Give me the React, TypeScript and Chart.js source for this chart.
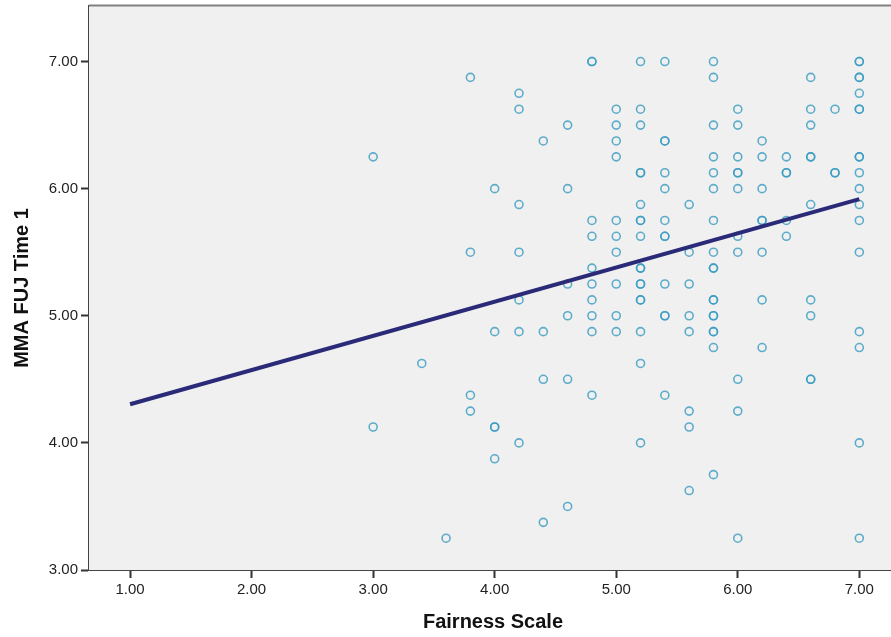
import React, { useEffect, useRef } from "react";
import { Chart, registerables } from "chart.js";

Chart.register(...registerables);

// Fairness Scale (x) and MMA FUJ Time 1 (y), one entry per observation
const fairnessScale: number[] = [
  3.0, 3.0,
  3.4,
  3.6,
  3.8, 3.8, 3.8, 3.8,
  4.0, 4.0, 4.0, 4.0, 4.0,
  4.2, 4.2, 4.2, 4.2, 4.2, 4.2, 4.2,
  4.4, 4.4, 4.4, 4.4,
  4.6, 4.6, 4.6, 4.6, 4.6, 4.6,
  4.8, 4.8, 4.8, 4.8, 4.8, 4.8, 4.8, 4.8, 4.8, 4.8,
  5.0, 5.0, 5.0, 5.0, 5.0, 5.0, 5.0, 5.0, 5.0, 5.0,
  5.2, 5.2, 5.2, 5.2, 5.2, 5.2, 5.2, 5.2, 5.2, 5.2, 5.2, 5.2, 5.2, 5.2, 5.2, 5.2, 5.2, 5.2,
  5.4, 5.4, 5.4, 5.4, 5.4, 5.4, 5.4, 5.4, 5.4, 5.4, 5.4, 5.4,
  5.6, 5.6, 5.6, 5.6, 5.6, 5.6, 5.6, 5.6,
  5.8, 5.8, 5.8, 5.8, 5.8, 5.8, 5.8, 5.8, 5.8, 5.8, 5.8, 5.8, 5.8, 5.8, 5.8, 5.8, 5.8, 5.8,
  6.0, 6.0, 6.0, 6.0, 6.0, 6.0, 6.0, 6.0, 6.0, 6.0, 6.0,
  6.2, 6.2, 6.2, 6.2, 6.2, 6.2, 6.2, 6.2,
  6.4, 6.4, 6.4, 6.4, 6.4,
  6.6, 6.6, 6.6, 6.6, 6.6, 6.6, 6.6, 6.6, 6.6, 6.6,
  6.8, 6.8, 6.8,
  7.0, 7.0, 7.0, 7.0, 7.0, 7.0, 7.0, 7.0, 7.0, 7.0, 7.0, 7.0, 7.0, 7.0, 7.0, 7.0, 7.0, 7.0,
];

const fujTime1: number[] = [
  6.25, 4.125,
  4.625,
  3.25,
  6.875, 5.5, 4.375, 4.25,
  6.0, 4.875, 4.125, 4.125, 3.875,
  6.75, 6.625, 5.875, 5.5, 5.125, 4.875, 4.0,
  6.375, 4.875, 4.5, 3.375,
  6.5, 6.0, 5.25, 5.0, 4.5, 3.5,
  7.0, 7.0, 5.75, 5.625, 5.375, 5.25, 5.125, 5.0, 4.875, 4.375,
  6.625, 6.5, 6.375, 6.25, 5.75, 5.625, 5.5, 5.25, 5.0, 4.875,
  7.0, 6.625, 6.5, 6.125, 6.125, 5.875, 5.75, 5.75, 5.625, 5.375, 5.375, 5.25, 5.25, 5.125, 5.125, 4.875, 4.625, 4.0,
  7.0, 6.375, 6.375, 6.125, 6.0, 5.75, 5.625, 5.625, 5.25, 5.0, 5.0, 4.375,
  5.875, 5.5, 5.25, 5.0, 4.875, 4.25, 4.125, 3.625,
  7.0, 6.875, 6.5, 6.25, 6.125, 6.0, 5.75, 5.5, 5.375, 5.375, 5.125, 5.125, 5.0, 5.0, 4.875, 4.875, 4.75, 3.75,
  6.625, 6.5, 6.25, 6.125, 6.125, 6.0, 5.625, 5.5, 4.5, 4.25, 3.25,
  6.375, 6.25, 6.0, 5.75, 5.75, 5.5, 5.125, 4.75,
  6.25, 6.125, 6.125, 5.75, 5.625,
  6.875, 6.625, 6.5, 6.25, 6.25, 5.875, 5.125, 5.0, 4.5, 4.5,
  6.625, 6.125, 6.125,
  7.0, 7.0, 6.875, 6.875, 6.75, 6.625, 6.625, 6.25, 6.25, 6.125, 6.0, 5.875, 5.75, 5.5, 4.875, 4.75, 4.0, 3.25,
];

// Fit line endpoints
const fitX: number[] = [1.0, 7.0];
const fitY: number[] = [4.304, 5.917];

const xTickValues: number[] = [1, 2, 3, 4, 5, 6, 7];
const yTickValues: number[] = [3, 4, 5, 6, 7];

const xTitle = "Fairness Scale";
const yTitle = "MMA FUJ Time 1";

const FONT = "'Liberation Sans', Arial, sans-serif";

export default function App() {
  const ref = useRef<HTMLCanvasElement | null>(null);

  useEffect(() => {
    document.body.style.margin = "0";
    const canvas = ref.current;
    if (!canvas) return;

    const n = Math.min(fairnessScale.length, fujTime1.length);
    const pts = [];
    for (let i = 0; i < n; i++) pts.push({ x: fairnessScale[i], y: fujTime1[i] });
    const line = fitX.map((x, i) => ({ x, y: fitY[i] }));

    const bgPlugin = {
      id: "bgPlugin",
      beforeDatasetsDraw(chart: any) {
        const { ctx, chartArea } = chart;
        ctx.save();
        ctx.fillStyle = "#f0f0f0";
        ctx.fillRect(chartArea.left, chartArea.top, chartArea.right - chartArea.left, chartArea.bottom - chartArea.top);
        ctx.restore();
      },
      afterDraw(chart: any) {
        const { ctx, chartArea } = chart;
        ctx.save();
        ctx.strokeStyle = "#808080";
        ctx.lineWidth = 2;
        ctx.beginPath();
        ctx.moveTo(chartArea.left, chartArea.top);
        ctx.lineTo(chartArea.right, chartArea.top);
        ctx.stroke();
        ctx.fillStyle = "#111";
        ctx.font = `bold 20px ${FONT}`;
        ctx.textAlign = "center";
        ctx.textBaseline = "middle";
        ctx.fillText(xTitle, 493, 622);
        ctx.translate(22, 288);
        ctx.rotate(-Math.PI / 2);
        ctx.fillText(yTitle, 0, 0);
        ctx.restore();
      },
    };

    const chart = new Chart(canvas, {
      type: "scatter",
      data: {
        datasets: [
          {
            type: "line",
            data: line,
            borderColor: "#2b2a78",
            borderWidth: 4,
            pointRadius: 0,
            fill: false,
          } as any,
          {
            data: pts,
            pointRadius: 4,
            pointBorderWidth: 1.6,
            pointBorderColor: "rgba(55,155,192,0.8)",
            pointBackgroundColor: "rgba(0,0,0,0)",
          },
        ],
      },
      options: {
        animation: false,
        responsive: false,
        devicePixelRatio: 1,
        layout: { padding: { top: 5, right: 0, left: 0, bottom: 0 } },
        plugins: { legend: { display: false }, tooltip: { enabled: false } },
        scales: {
          x: {
            type: "linear",
            min: 0.662,
            max: 7.264,
            afterFit(scale: any) {
              scale.height = 67;
              scale.paddingLeft = 0;
              scale.paddingRight = 0;
            },
            afterBuildTicks(scale: any) {
              scale.ticks = xTickValues.map((v) => ({ value: v }));
            },
            ticks: {
              callback: (v: any) => Number(v).toFixed(2),
              color: "#222",
              font: { family: FONT, size: 15 },
              padding: 3,
              maxRotation: 0,
              autoSkip: false,
            },
            grid: {
              drawOnChartArea: false,
              drawTicks: true,
              tickLength: 8,
              tickWidth: 2,
              tickColor: "#333",
            },
            border: { display: true, color: "#444", width: 2 },
          },
          y: {
            type: "linear",
            min: 3,
            max: 7.44,
            afterFit(scale: any) {
              scale.width = 89;
              scale.paddingTop = 0;
              scale.paddingBottom = 0;
            },
            afterBuildTicks(scale: any) {
              scale.ticks = yTickValues.map((v) => ({ value: v }));
            },
            ticks: {
              callback: (v: any) => Number(v).toFixed(2),
              color: "#222",
              font: { family: FONT, size: 15 },
              padding: 3,
              autoSkip: false,
            },
            grid: {
              drawOnChartArea: false,
              drawTicks: true,
              tickLength: 8,
              tickWidth: 2,
              tickColor: "#333",
            },
            border: { display: true, color: "#444", width: 2 },
          },
        },
      },
      plugins: [bgPlugin],
    });

    return () => chart.destroy();
  }, []);

  return (
    <div style={{ position: "absolute", left: 0, top: 0, width: 891, height: 637, background: "#fff", overflow: "hidden" }}>
      <canvas ref={ref} width={897} height={637} style={{ display: "block", width: 897, height: 637 }} />
    </div>
  );
}
